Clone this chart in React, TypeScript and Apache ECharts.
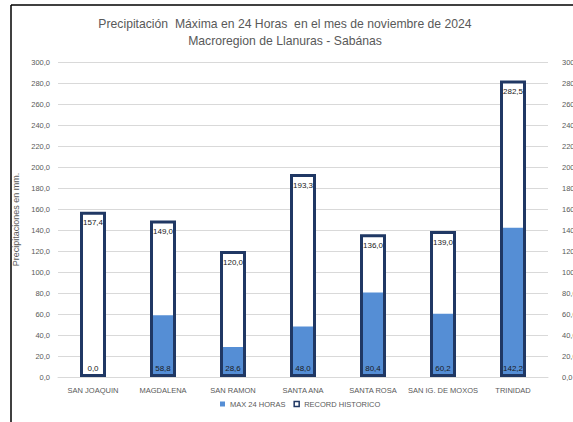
import React, { useEffect, useRef } from "react";
import * as echarts from "echarts";

const categories = ["SAN JOAQUIN", "MAGDALENA", "SAN RAMON", "SANTA ANA", "SANTA ROSA", "SAN IG. DE MOXOS", "TRINIDAD"];
const max24 = [0.0, 58.8, 28.6, 48.0, 80.4, 60.2, 142.2];
const record = [157.4, 149.0, 120.0, 193.3, 136.0, 139.0, 282.5];
const titleLines = ["Precipitación  Máxima en 24 Horas  en el mes de noviembre de 2024", "Macroregion de Llanuras - Sabánas"];
const yName = "Precipitaciones en mm.";

const fmt = (v: number) => v.toFixed(1).replace(".", ",");
const FONT = "Liberation Sans";
const GRAY = "#595959";
const NAVY = "#203864";
const BLUE = "#558ED5";

export default function App() {
  const ref = useRef<HTMLDivElement>(null);
  useEffect(() => {
    document.body.style.margin = "0";
    const chart = echarts.init(ref.current!, null, { renderer: "svg" });
    const yAxisCommon = {
      type: "value" as const,
      min: 0,
      max: 300,
      interval: 20,
      axisLine: { show: false },
      axisTick: { show: false },
    };
    chart.setOption({
      animation: false,
      backgroundColor: "#ffffff",
      textStyle: { fontFamily: FONT },
      title: {
        text: titleLines.join("\n"),
        left: 280,
        textAlign: "center",
        top: 10,
        textStyle: { fontFamily: FONT, fontSize: 12.2, fontWeight: "normal", color: GRAY, lineHeight: 17 },
      },
      graphic: [
        { type: "line", shape: { x1: 11, y1: 5, x2: 573, y2: 5 }, style: { stroke: "#000", lineWidth: 1.5 } },
        { type: "line", shape: { x1: 11, y1: 5, x2: 11, y2: 422 }, style: { stroke: "#000", lineWidth: 1.5 } },
      ],
      legend: {
        bottom: 9,
        left: 215,
        itemWidth: 5,
        itemHeight: 5,
        itemGap: 8,
        icon: "rect",
        textStyle: { fontFamily: FONT, fontSize: 7.5, color: GRAY },
        data: [
          { name: "MAX 24 HORAS", itemStyle: { color: BLUE } },
          { name: "RECORD HISTORICO", itemStyle: { color: "#ffffff", borderColor: NAVY, borderWidth: 1.5 } },
        ],
      },
      grid: { left: 58, right: 25, top: 62, bottom: 45, outerBoundsMode: "none", containLabel: false },
      xAxis: {
        type: "category",
        data: categories,
        axisLine: { lineStyle: { color: "#D9D9D9" } },
        axisTick: { show: false },
        axisLabel: { fontFamily: FONT, fontSize: 7.5, color: GRAY, margin: 9, interval: 0 },
      },
      yAxis: [
        {
          ...yAxisCommon,
          name: yName,
          nameLocation: "middle",
          nameGap: 28,
          nameTextStyle: { fontFamily: FONT, fontSize: 9, color: GRAY },
          splitLine: { lineStyle: { color: "#D9D9D9", width: 1 } },
          axisLabel: { fontFamily: FONT, fontSize: 7.5, color: GRAY, formatter: (v: number) => fmt(v), margin: 8 },
        },
        {
          ...yAxisCommon,
          position: "right",
          splitLine: { show: false },
          axisLabel: { fontFamily: FONT, fontSize: 7.5, color: GRAY, formatter: (v: number) => fmt(v), margin: 14 },
        },
      ],
      series: [
        {
          name: "RECORD HISTORICO",
          type: "bar",
          data: record,
          barWidth: 26,
          barGap: "-100%",
          itemStyle: { color: "#ffffff" },
          z: 2,
        },
        {
          name: "MAX 24 HORAS",
          type: "bar",
          data: max24,
          barWidth: 26,
          barGap: "-100%",
          itemStyle: { color: BLUE },
          label: {
            show: true,
            position: "insideBottom",
            distance: 5,
            formatter: (p: any) => fmt(p.value),
            fontFamily: FONT,
            fontSize: 8,
            color: "#1a1a1a",
          },
          z: 3,
        },
        {
          name: "record-outline",
          type: "bar",
          data: record,
          barWidth: 26,
          barGap: "-100%",
          itemStyle: { color: "rgba(0,0,0,0)", borderColor: NAVY, borderWidth: 3 },
          label: {
            show: true,
            position: "insideTop",
            distance: 7,
            formatter: (p: any) => fmt(p.value),
            fontFamily: FONT,
            fontSize: 8,
            color: "#1a1a1a",
          },
          z: 4,
        },
      ],
    });
    return () => chart.dispose();
  }, []);
  return <div ref={ref} style={{ position: "absolute", left: 0, top: 0, width: 573, height: 422 }} />;
}
